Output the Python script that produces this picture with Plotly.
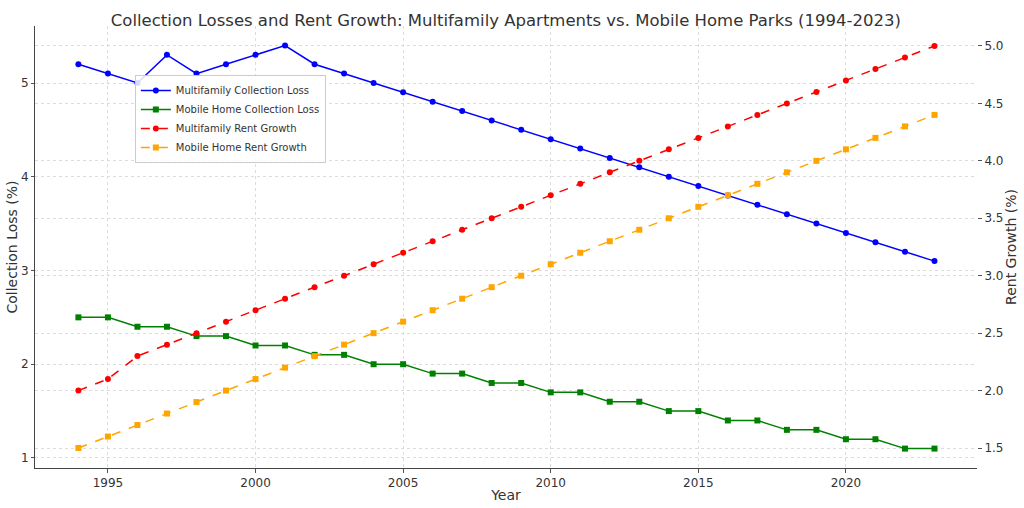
import plotly.graph_objects as go

years = list(range(1994, 2024))

mf_loss = [5.2, 5.1, 5.0, 5.3, 5.1, 5.2, 5.3, 5.4, 5.2, 5.1,
           5.0, 4.9, 4.8, 4.7, 4.6, 4.5, 4.4, 4.3, 4.2, 4.1,
           4.0, 3.9, 3.8, 3.7, 3.6, 3.5, 3.4, 3.3, 3.2, 3.1]
mh_loss = [2.5, 2.5, 2.4, 2.4, 2.3, 2.3, 2.2, 2.2, 2.1, 2.1,
           2.0, 2.0, 1.9, 1.9, 1.8, 1.8, 1.7, 1.7, 1.6, 1.6,
           1.5, 1.5, 1.4, 1.4, 1.3, 1.3, 1.2, 1.2, 1.1, 1.1]
mf_rent = [2.0, 2.1, 2.3, 2.4, 2.5, 2.6, 2.7, 2.8, 2.9, 3.0,
           3.1, 3.2, 3.3, 3.4, 3.5, 3.6, 3.7, 3.8, 3.9, 4.0,
           4.1, 4.2, 4.3, 4.4, 4.5, 4.6, 4.7, 4.8, 4.9, 5.0]
mh_rent = [1.5, 1.6, 1.7, 1.8, 1.9, 2.0, 2.1, 2.2, 2.3, 2.4,
           2.5, 2.6, 2.7, 2.8, 2.9, 3.0, 3.1, 3.2, 3.3, 3.4,
           3.5, 3.6, 3.7, 3.8, 3.9, 4.0, 4.1, 4.2, 4.3, 4.4]

fig = go.Figure()

fig.add_trace(go.Scatter(x=years, y=mf_loss, name="Multifamily Collection Loss",
                         mode="lines+markers", line=dict(color="blue", width=1.5),
                         marker=dict(symbol="circle", size=6)))
fig.add_trace(go.Scatter(x=years, y=mh_loss, name="Mobile Home Collection Loss",
                         mode="lines+markers", line=dict(color="green", width=1.5),
                         marker=dict(symbol="square", size=6)))
fig.add_trace(go.Scatter(x=years, y=mf_rent, name="Multifamily Rent Growth", yaxis="y2",
                         mode="lines+markers", line=dict(color="red", width=1.5, dash="dash"),
                         marker=dict(symbol="circle", size=6)))
fig.add_trace(go.Scatter(x=years, y=mh_rent, name="Mobile Home Rent Growth", yaxis="y2",
                         mode="lines+markers", line=dict(color="orange", width=1.5, dash="dash"),
                         marker=dict(symbol="square", size=6)))

grid = dict(showgrid=True, gridcolor="#dcdcdc", griddash="dot", gridwidth=1)

fig.update_layout(
    width=1024, height=508,
    margin=dict(l=35, r=47, t=26, b=40),
    paper_bgcolor="white", plot_bgcolor="white",
    font=dict(family="DejaVu Sans", size=12, color="#333333"),
    title=dict(text="Collection Losses and Rent Growth: Multifamily Apartments vs. Mobile Home Parks (1994-2023)",
               x=0.494, xanchor="center", y=0.972, yanchor="top",
               font=dict(size=16.5, color="#333333")),
    xaxis=dict(range=[1992.53, 2024.44], tickvals=[1995, 2000, 2005, 2010, 2015, 2020],
               title=dict(text="Year", standoff=0), showline=True, linecolor="#444444",
               ticks="outside", ticklen=4, tickcolor="#555555", zeroline=False,
               automargin=False, **grid),
    yaxis=dict(range=[0.893, 5.608], tickvals=[1, 2, 3, 4, 5],
               title=dict(text="Collection Loss (%)", standoff=0), showline=True,
               linecolor="#444444", ticks="outside", ticklen=3, tickcolor="#555555",
               zeroline=False, automargin=False, **grid),
    yaxis2=dict(range=[1.326, 5.174], tickvals=[1.5, 2.0, 2.5, 3.0, 3.5, 4.0, 4.5, 5.0],
                tickformat=".1f", overlaying="y", side="right",
                title=dict(text="Rent Growth (%)", standoff=2), showline=False,
                ticks="outside", ticklen=4, tickcolor="#555555", zeroline=False,
                automargin=False, **grid),
    legend=dict(x=0.106, y=0.889, xanchor="left", yanchor="top",
                bgcolor="rgba(255,255,255,0.85)", bordercolor="#cccccc", borderwidth=1,
                font=dict(size=10), tracegroupgap=0),
)

# drop the page's default body margin so the figure sits at the window's corner
fig.write_html("out.html", config={"displayModeBar": False},
               post_script="document.body.style.margin='0';")
